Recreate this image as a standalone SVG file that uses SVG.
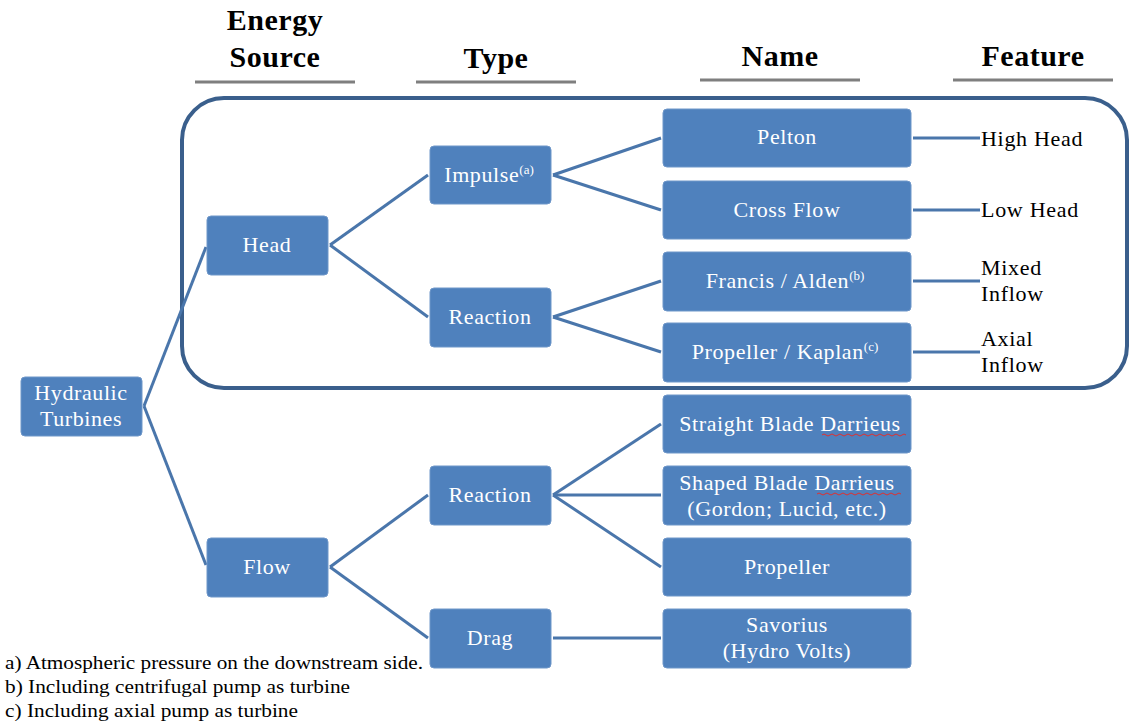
<svg xmlns="http://www.w3.org/2000/svg" width="1130" height="726" viewBox="0 0 1130 726">
<style>
.node rect{fill:#4f81bd;stroke:#6f97c9;stroke-width:1}
.nt{font-family:"Liberation Serif","DejaVu Serif","Times New Roman",serif;font-size:22px;letter-spacing:0.6px;fill:#ffffff;text-anchor:middle}
.hd{font-family:"Liberation Serif","DejaVu Serif","Times New Roman",serif;font-size:30px;letter-spacing:0.5px;font-weight:bold;fill:#000;text-anchor:middle}
.ft{font-family:"Liberation Serif","DejaVu Serif","Times New Roman",serif;font-size:22px;letter-spacing:0.7px;fill:#000}
.fn{font-family:"Liberation Serif","DejaVu Serif","Times New Roman",serif;font-size:18px;fill:#000}
.ul{stroke:#7f7f7f;stroke-width:3}
#connectors line{stroke:#4a76ab;stroke-width:3;fill:none}
.sup{font-size:13px;letter-spacing:0}
.wavy{fill:none;stroke:#e03030;stroke-width:1}
</style>
<rect width="1130" height="726" fill="#ffffff"/>
<g id="headers">
<text class="hd" x="275" y="30">Energy</text>
<text class="hd" x="275" y="67">Source</text>
<line class="ul" x1="195" y1="82" x2="355" y2="82"/>
<text class="hd" x="496" y="68">Type</text>
<line class="ul" x1="416" y1="82" x2="576" y2="82"/>
<text class="hd" x="780" y="66">Name</text>
<line class="ul" x1="700" y1="80" x2="860" y2="80"/>
<text class="hd" x="1033" y="66">Feature</text>
<line class="ul" x1="953" y1="80" x2="1113" y2="80"/>
</g>
<g id="container">
<rect x="182" y="98" width="945" height="290" rx="42" ry="42" fill="none" stroke="#3a5f8c" stroke-width="4"/>
</g>
<g id="connectors">
<line x1="144" y1="406" x2="206" y2="247"/>
<line x1="144" y1="406" x2="206" y2="565"/>
<line x1="330" y1="245" x2="428" y2="175"/>
<line x1="330" y1="245" x2="428" y2="317"/>
<line x1="330" y1="567" x2="428" y2="495"/>
<line x1="330" y1="567" x2="428" y2="638"/>
<line x1="553" y1="175" x2="661" y2="138"/>
<line x1="553" y1="175" x2="661" y2="210"/>
<line x1="553" y1="317" x2="661" y2="281"/>
<line x1="553" y1="317" x2="661" y2="352"/>
<line x1="553" y1="495" x2="661" y2="424"/>
<line x1="553" y1="495" x2="661" y2="495"/>
<line x1="553" y1="495" x2="661" y2="567"/>
<line x1="553" y1="638" x2="661" y2="638"/>
<line x1="913" y1="138" x2="980" y2="138"/>
<line x1="913" y1="210" x2="980" y2="210"/>
<line x1="913" y1="281" x2="980" y2="281"/>
<line x1="913" y1="352" x2="980" y2="352"/>
</g>
<g id="n-hydraulic" class="node"><rect x="21" y="377" width="121" height="59" rx="4"/><text class="nt" x="81" y="400">Hydraulic</text><text class="nt" x="81" y="426">Turbines</text></g>
<g id="n-head" class="node"><rect x="207" y="216" width="121" height="59" rx="4"/><text class="nt" x="267" y="252">Head</text></g>
<g id="n-flow" class="node"><rect x="207" y="538" width="121" height="59" rx="4"/><text class="nt" x="267" y="574">Flow</text></g>
<g id="n-impulse" class="node"><rect x="430" y="146" width="121" height="58" rx="4"/><text class="nt" x="489" y="182">Impulse<tspan class="sup" dy="-8">(a)</tspan></text></g>
<g id="n-reaction1" class="node"><rect x="430" y="288" width="121" height="59" rx="4"/><text class="nt" x="490" y="324">Reaction</text></g>
<g id="n-reaction2" class="node"><rect x="430" y="466" width="121" height="59" rx="4"/><text class="nt" x="490" y="502">Reaction</text></g>
<g id="n-drag" class="node"><rect x="430" y="609" width="121" height="59" rx="4"/><text class="nt" x="490" y="645">Drag</text></g>
<g id="n-pelton" class="node"><rect x="663" y="109" width="248" height="58" rx="4"/><text class="nt" x="787" y="144">Pelton</text></g>
<g id="n-crossflow" class="node"><rect x="663" y="181" width="248" height="58" rx="4"/><text class="nt" x="787" y="217">Cross Flow</text></g>
<g id="n-francis" class="node"><rect x="663" y="252" width="248" height="59" rx="4"/><text class="nt" x="785" y="288" xml:space="preserve">Francis / Alden<tspan class="sup" dy="-8">(b)</tspan></text></g>
<g id="n-kaplan" class="node"><rect x="663" y="323" width="248" height="59" rx="4"/><text class="nt" x="785" y="359" xml:space="preserve">Propeller / Kaplan<tspan class="sup" dy="-8">(c)</tspan></text></g>
<g id="n-straight" class="node"><rect x="663" y="395" width="248" height="58" rx="4"/><text class="nt" x="790" y="431">Straight Blade Darrieus</text><path class="wavy" d="M822 435 q2 -2 4 0 t4 0 t4 0 t4 0 t4 0 t4 0 t4 0 t4 0 t4 0 t4 0 t4 0 t4 0 t4 0 t4 0 t4 0 t4 0 t4 0 t4 0 t4 0 t4 0 t4 0"/></g>
<g id="n-shaped" class="node"><rect x="663" y="466" width="248" height="59" rx="4"/><text class="nt" x="787" y="490">Shaped Blade Darrieus</text><text class="nt" x="787" y="516">(Gordon; Lucid, etc.)</text><path class="wavy" d="M817 494 q2 -2 4 0 t4 0 t4 0 t4 0 t4 0 t4 0 t4 0 t4 0 t4 0 t4 0 t4 0 t4 0 t4 0 t4 0 t4 0 t4 0 t4 0 t4 0 t4 0 t4 0 t4 0"/></g>
<g id="n-propeller" class="node"><rect x="663" y="538" width="248" height="58" rx="4"/><text class="nt" x="787" y="574">Propeller</text></g>
<g id="n-savorius" class="node"><rect x="663" y="609" width="248" height="59" rx="4"/><text class="nt" x="787" y="632">Savorius</text><text class="nt" x="787" y="658">(Hydro Volts)</text></g>
<g id="features">
<text class="ft" x="981" y="146">High Head</text>
<text class="ft" x="981" y="217">Low Head</text>
<text class="ft" x="981" y="275">Mixed</text>
<text class="ft" x="981" y="301">Inflow</text>
<text class="ft" x="981" y="346">Axial</text>
<text class="ft" x="981" y="372">Inflow</text>
</g>
<g id="footnotes">
<text class="fn" x="5" y="669" textLength="418" lengthAdjust="spacingAndGlyphs">a) Atmospheric pressure on the downstream side.</text>
<text class="fn" x="5" y="693" textLength="345" lengthAdjust="spacingAndGlyphs">b) Including centrifugal pump as turbine</text>
<text class="fn" x="5" y="717" textLength="293" lengthAdjust="spacingAndGlyphs">c) Including axial pump as turbine</text>
</g>
</svg>
